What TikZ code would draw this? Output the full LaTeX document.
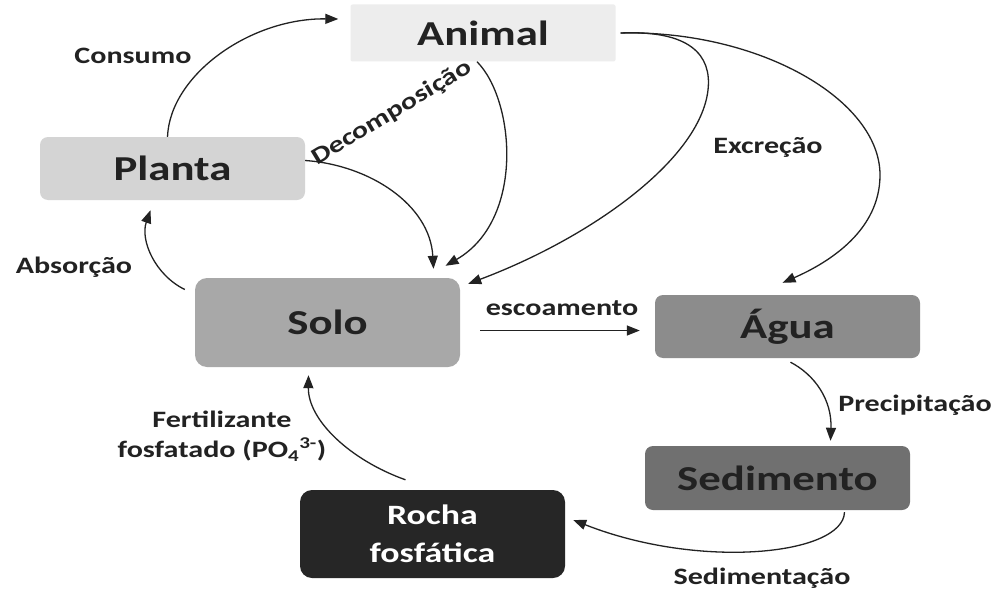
\documentclass[tikz,border=0pt]{standalone}
\usepackage{fontspec}
\setmainfont{Carlito}[FakeStretch=1.28]
\usetikzlibrary{arrows.meta}
\definecolor{cAnimal}{HTML}{EDEDED}
\definecolor{cPlanta}{HTML}{D4D4D4}
\definecolor{cSolo}{HTML}{A8A8A8}
\definecolor{cAgua}{HTML}{8C8C8C}
\definecolor{cSed}{HTML}{707070}
\definecolor{cRocha}{HTML}{262626}
\definecolor{ink}{HTML}{222222}
\begin{document}
\begin{tikzpicture}[x=1pt,y=-1pt,
  box/.style={rectangle, rounded corners=8pt, minimum width=265pt, inner sep=0pt,
    font=\bfseries\fontsize{35}{40}\selectfont, text=ink},
  lab/.style={font=\bfseries\fontsize{23.5}{30}\selectfont, text=ink, inner sep=0pt},
  con/.style={draw=ink, line width=1.3pt, -{Triangle[length=13pt,width=10pt]}}]
\useasboundingbox[fill=white] (0,0) rectangle (1001,594);

\node[box, fill=cAnimal, rounded corners=2pt, minimum height=57pt] (animal) at (483,33) {Animal};
\node[box, fill=cPlanta, minimum height=63pt] (planta) at (172.5,168.5) {Planta};
\node[box, fill=cSolo, rounded corners=12pt, minimum height=89pt] (solo) at (327.5,322.5) {Solo};
\node[box, fill=cAgua, minimum height=63pt] (agua) at (787.5,326.5) {Água};
\node[box, fill=cSed, minimum height=64pt] (sed) at (777.5,478) {Sedimento};
\node[box, fill=cRocha, text=white, rounded corners=12pt, minimum height=88pt, align=center,
  font=\bfseries\fontsize{28}{38}\selectfont] (rocha) at (432.5,534) {Rocha\\fosfática};

% connectors
\draw[con] ([xshift=-5pt]planta.north) .. controls (170,75) and (250,18) .. ([xshift=-12pt,yshift=14pt]animal.west);
\draw[con] ([yshift=8pt]planta.east) .. controls (370,165) and (430,205) .. ([xshift=106pt,yshift=9pt]solo.north);
\draw[con] ([xshift=-6pt]animal.south) .. controls (515,100) and (525,220) .. ([xshift=118pt,yshift=12pt]solo.north);
\draw[con] ([xshift=5pt]animal.east) .. controls (690,30) and (712,55) .. (708,90)
  .. controls (700,160) and (590,238) .. ([xshift=8pt,yshift=-6pt]solo.north east);
\draw[con] ([xshift=5pt]animal.east) .. controls (760,30) and (880,100) .. (880,175)
  .. controls (880,230) and (830,262) .. ([xshift=-5pt,yshift=12pt]agua.north);
\draw[con] ([xshift=-10pt,yshift=33pt]solo.west) .. controls (155,275) and (140,240) .. ([xshift=-22pt,yshift=-10pt]planta.south);
\draw[con] ([xshift=20pt,yshift=-8pt]solo.east) -- ([xshift=-15pt,yshift=-4pt]agua.west);
\draw[con] ([xshift=3pt,yshift=-4pt]agua.south) .. controls (815,375) and (832,400) .. ([xshift=53pt,yshift=5pt]sed.north);
\draw[con] ([xshift=67pt,yshift=-2pt]sed.south) .. controls (843,555) and (700,570) .. ([xshift=8pt,yshift=14pt]rocha.east);
\draw[con] ([xshift=-27pt,yshift=10pt]rocha.north) .. controls (350,460) and (308,420) .. ([xshift=-19pt,yshift=-8pt]solo.south);

% labels
\node[lab] (lconsumo) at (133,56) {Consumo};
\node[lab, rotate=31] (ldecomp) at (392,113) {Decomposição};
\node[lab] (lexcr) at (768,147) {Excreção};
\node[lab] (labs) at (74,267) {Absorção};
\node[lab] (lesc) at (562,308) {escoamento};
\node[lab] (lprec) at (915,405) {Precipitação};
\node[lab] (lsed) at (762,578) {Sedimentação};
\node[lab, align=center] (lfert) at (222,436) {Fertilizante\\fosfatado (PO\textsubscript{4}\textsuperscript{3-})};
\end{tikzpicture}
\end{document}
